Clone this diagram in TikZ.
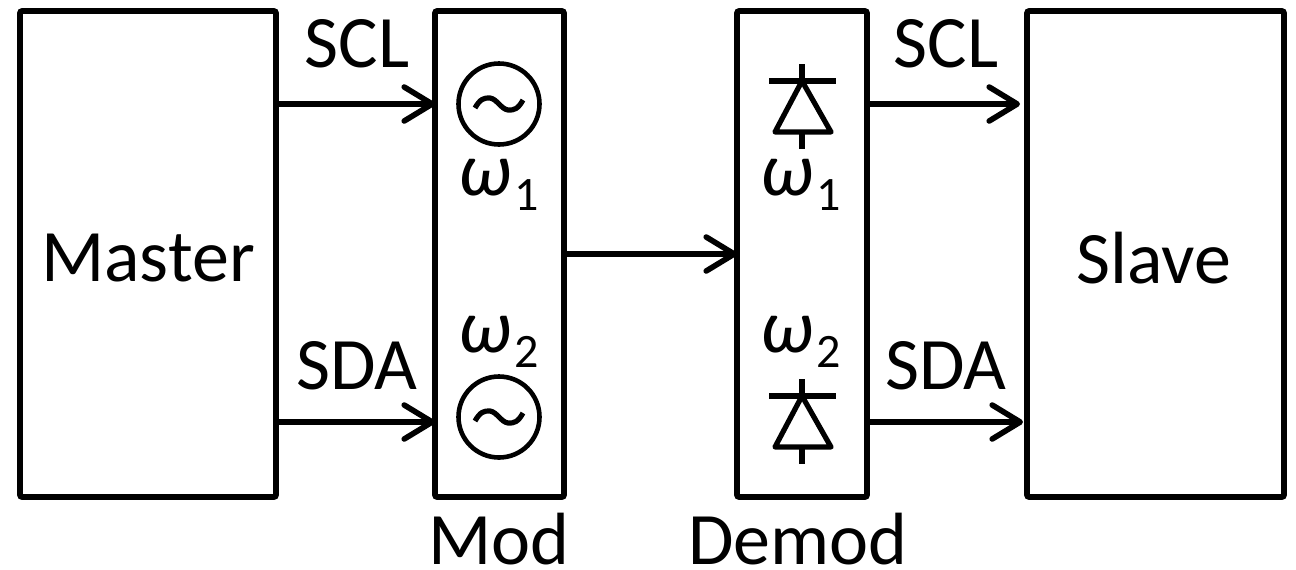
\documentclass[tikz,border=0pt]{standalone}
\usepackage{fontspec}
\setmainfont{Carlito}
\usepackage{tikz}
\usetikzlibrary{arrows.meta}
\tikzstyle{block} = [draw=black, line width=2.8pt, rectangle, rounded corners=1pt, inner sep=0pt, outer sep=0pt]
\tikzstyle{sig} = [draw=black, line width=2.8pt, -{Straight Barb[length=14pt,width=17pt,round]}]
\tikzstyle{bigtext} = [font=\fontsize{37}{40}\selectfont, inner sep=0pt]
\tikzstyle{freq} = [font=\fontsize{38}{40}\selectfont\itshape, inner sep=0pt]
\tikzstyle{source} = [draw=black, line width=2.3pt, circle, minimum size=40.5pt, inner sep=0pt]
\tikzstyle{part} = [draw=black, line width=2.6pt]
\newcommand{\wsub}[1]{ω\raisebox{-.2em}{\hspace{.04em}\fontsize{24}{26}\selectfont\upshape #1}}
% tilde inside a source
\newcommand{\wave}[1]{
    \draw[part, shift={(#1.center)}, x=1pt, y=1pt] (-12,-2)
        .. controls (-9.5,2.5) and (-7.5,3.2) .. (-4.5,3)
        .. controls (-1,2.5) and (1,-2.5) .. (4.5,-3)
        .. controls (7.5,-3.2) and (9.5,-2.5) .. (12,2);
}
% diode around a named apex
\newcommand{\diode}[1]{
    \draw[part, line join=round] (#1) -- ++(-13.5pt,-25.5pt) -- ++(28pt,0) -- cycle;
    \draw[part] ([xshift=-16.5pt]#1.center) -- ([xshift=17pt]#1.center);
    \draw[part] ([yshift=8.5pt]#1.center) -- (#1.center);
    \draw[part] ([yshift=-25.5pt]#1.center) -- ([yshift=-34pt]#1.center);
}

\begin{document}
\begin{tikzpicture}[x=.5pt, y=-.5pt]
    \useasboundingbox (0,0) rectangle (1296,569);
    \node [block, minimum width=128pt, minimum height=243pt] (master) at (148,254) {};
    \node [block, minimum width=64.5pt, minimum height=243pt] (mod) at (499.5,254) {};
    \node [block, minimum width=65pt, minimum height=243pt] (demod) at (802,254) {};
    \node [block, minimum width=128.5pt, minimum height=243pt] (slave) at (1155.5,254) {};

    \node [bigtext] (mastertext) at (148,258) {Master};
    \node [bigtext] (slavetext) at (1154,258) {Slave};
    \node [bigtext] (modtext) at (499,539) {Mod};
    \node [bigtext] (demodtext) at (798,539) {Demod};

    \node [source] (src1) at (499,104) {};
    \node [source] (src2) at (499,417) {};
    \wave{src1}
    \wave{src2}
    \coordinate (apex1) at (802,81);
    \coordinate (apex2) at (802,396);
    \diode{apex1}
    \diode{apex2}

    \node [freq] (modw1) at (499,185) {\wsub{1}};
    \node [freq] (modw2) at (499,342) {\wsub{2}};
    \node [freq] (demodw1) at (801,185) {\wsub{1}};
    \node [freq] (demodw2) at (801,342) {\wsub{2}};

    \coordinate (upper) at (0,104);
    \coordinate (lower) at (0,422);
    \draw [sig] (upper -| master.east) -- (upper -| mod.west);
    \draw [sig] (lower -| master.east) -- (lower -| mod.west);
    \draw [sig] (mod.east) -- (demod.west);
    \draw [sig] (upper -| demod.east) -- ([xshift=-3.5pt]upper -| slave.west);
    \draw [sig] (lower -| demod.east) -- ([xshift=-2pt]lower -| slave.west);

    \node [bigtext] (scl1) at (357,44) {SCL};
    \node [bigtext] (sda1) at (357,366) {SDA};
    \node [bigtext] (scl2) at (946,44) {SCL};
    \node [bigtext] (sda2) at (946,366) {SDA};
\end{tikzpicture}
\end{document}
